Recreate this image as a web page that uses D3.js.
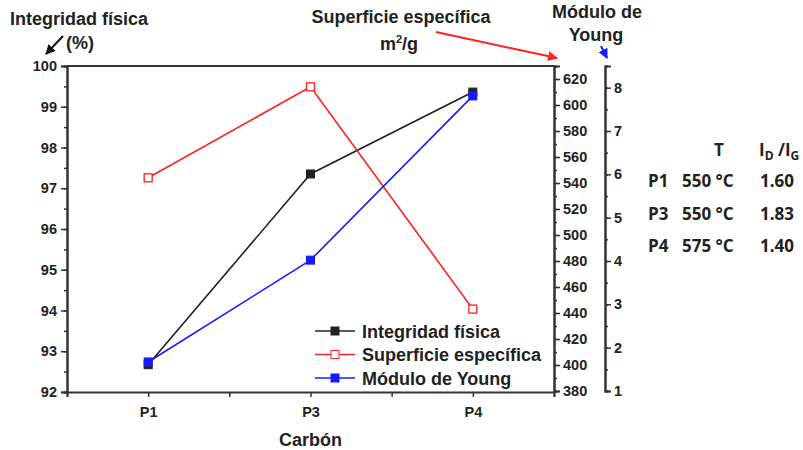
<!DOCTYPE html>
<html>
<head>
<meta charset="utf-8">
<script src="https://cdn.jsdelivr.net/npm/d3@7"></script>
<style>
  body { margin: 0; background: #fff; }
  svg text { font-family: "Liberation Sans", Arial, sans-serif; font-weight: bold; fill: #222; }
  .tabla text { font-family: "Open Sans", "Liberation Sans", sans-serif; font-weight: bold; }
</style>
</head>
<body>
<div id="grafico"></div>
<script>
// Datos
const carbones = ['P1', 'P3', 'P4'];
const integridad = [92.67, 97.35, 99.36];   // %
const superficie = [544, 614, 443];         // m2/g
const young = [1.67, 4.02, 7.81];           // Módulo de Young

const ticksIntegridad = [92, 93, 94, 95, 96, 97, 98, 99, 100];
const ticksSuperficie = [380, 400, 420, 440, 460, 480, 500, 520, 540, 560, 580, 600, 620];
const ticksYoung = [1, 2, 3, 4, 5, 6, 7, 8];

const tablaT = ['550 °C', '550 °C', '575 °C'];
const tablaRatio = ['1.60', '1.83', '1.40'];

const width = 803;
const height = 450;
const mIzq = 67, mDer = 554, mSup = 66, mInf = 392;

const svg = d3.select('#grafico')
    .append('svg')
    .attr('width', width)
    .attr('height', height);

// Escalas
const x = d3.scaleLinear().domain([0.5, 3.5]).range([mIzq, mDer]);
const yInt = d3.scaleLinear().domain([92, 100]).range([mInf, mSup]);
const ySup = d3.scaleLinear().domain([380, 630]).range([mInf - 1, mSup]);
const yYoung = d3.scaleLinear().domain([1, 8.5]).range([mInf - 1, mSup]);

// Marco
svg.append('line').attr('x1', mIzq).attr('x2', mDer).attr('y1', mSup).attr('y2', mSup)
    .attr('stroke', '#333').attr('stroke-width', 2);

function estiloEje(g) {
    g.select('.domain').attr('stroke', '#333').attr('stroke-width', 2);
    g.selectAll('.tick line').attr('stroke', '#333').attr('stroke-width', 1.5);
    g.selectAll('.tick text').attr('font-size', 14.5).attr('font-weight', 'bold').attr('fill', '#222');
}

// Eje izquierdo
svg.append('g').attr('transform', `translate(${mIzq},0)`)
    .call(d3.axisLeft(yInt).tickValues(d3.range(92, 100.01, 0.5)).tickSize(3).tickFormat(''))
    .call(estiloEje);
svg.append('g').attr('transform', `translate(${mIzq},0)`)
    .call(d3.axisLeft(yInt).tickValues(ticksIntegridad).tickSize(6).tickPadding(4).tickFormat(d3.format('d')))
    .call(estiloEje);

// Eje derecho (superficie)
svg.append('g').attr('transform', `translate(${mDer},0)`)
    .call(d3.axisRight(ySup).tickValues(d3.range(380, 631, 10)).tickSize(3).tickFormat(''))
    .call(estiloEje);
svg.append('g').attr('transform', `translate(${mDer},0)`)
    .call(d3.axisRight(ySup).tickValues(ticksSuperficie).tickSize(6).tickPadding(3).tickFormat(d3.format('d')))
    .call(estiloEje);

// Eje Young
const xYoung = 605;
svg.append('g').attr('transform', `translate(${xYoung},0)`)
    .call(d3.axisRight(yYoung).tickValues(d3.range(1, 8.51, 0.5)).tickSize(3).tickFormat(''))
    .call(estiloEje);
svg.append('g').attr('transform', `translate(${xYoung},0)`)
    .call(d3.axisRight(yYoung).tickValues(ticksYoung).tickSize(6).tickPadding(3).tickFormat(d3.format('d')))
    .call(estiloEje);

// Eje X
svg.append('g').attr('transform', `translate(0,${mInf})`)
    .call(d3.axisBottom(x).tickValues(d3.range(0.5, 3.51, 0.5)).tickSize(5)
        .tickFormat(d => Number.isInteger(d) ? carbones[d - 1] : ''))
    .call(estiloEje)
    .call(g => g.selectAll('.tick text').attr('dy', '1.2em'));

svg.append('text').attr('x', (mIzq + mDer) / 2).attr('y', 446)
    .attr('text-anchor', 'middle').attr('font-size', 18).text('Carbón');

// Series
const series = [
    { nombre: 'Integridad física', datos: integridad, y: yInt, color: '#222', lleno: true },
    { nombre: 'Superficie específica', datos: superficie, y: ySup, color: '#ff2020', lleno: false },
    { nombre: 'Módulo de Young', datos: young, y: yYoung, color: '#1a1aff', lleno: true }
];

series.forEach(s => {
    const linea = d3.line().x((d, i) => x(i + 1)).y(d => s.y(d));
    svg.append('path').datum(s.datos)
        .attr('d', linea).attr('fill', 'none')
        .attr('stroke', s.color).attr('stroke-width', 1.6);
    svg.selectAll(null).data(s.datos).enter().append('rect')
        .attr('x', (d, i) => x(i + 1) - 4)
        .attr('y', d => s.y(d) - 4)
        .attr('width', 8).attr('height', 8)
        .attr('fill', s.lleno ? s.color : '#fff')
        .attr('stroke', s.color).attr('stroke-width', s.lleno ? 1 : 1.3);
});

// Leyenda
const leyenda = svg.append('g').attr('transform', 'translate(315,331)');
series.forEach((s, i) => {
    const g = leyenda.append('g').attr('transform', `translate(0,${i * 23.5})`);
    g.append('line').attr('x1', 0).attr('x2', 40).attr('stroke', s.color).attr('stroke-width', 1.6);
    g.append('rect').attr('x', 16).attr('y', -4).attr('width', 8).attr('height', 8)
        .attr('fill', s.lleno ? s.color : '#fff').attr('stroke', s.color);
    g.append('text').attr('x', 47).attr('y', 6.5).attr('font-size', 18).text(s.nombre);
});

// Flechas
const defs = svg.append('defs');
function punta(id, color) {
    defs.append('marker').attr('id', id).attr('viewBox', '0 0 10 10')
        .attr('refX', 9).attr('refY', 5).attr('markerWidth', 5).attr('markerHeight', 5)
        .attr('orient', 'auto')
        .append('path').attr('d', 'M0,0 L10,5 L0,10 Z').attr('fill', color);
}
punta('pNegra', '#111');
punta('pRoja', '#ff2020');
punta('pAzul', '#1a1aff');

// Títulos de ejes
svg.append('text').attr('x', 10).attr('y', 25).attr('font-size', 18).text('Integridad física');
svg.append('text').attr('x', 66).attr('y', 49).attr('font-size', 18).text('(%)');
svg.append('line').attr('x1', 63).attr('y1', 36).attr('x2', 46).attr('y2', 54)
    .attr('stroke', '#111').attr('stroke-width', 2).attr('marker-end', 'url(#pNegra)');

svg.append('text').attr('x', 401).attr('y', 23).attr('text-anchor', 'middle').attr('font-size', 18)
    .text('Superficie específica');
const m2 = svg.append('text').attr('x', 399).attr('y', 50).attr('text-anchor', 'middle').attr('font-size', 18);
m2.append('tspan').text('m');
m2.append('tspan').attr('font-size', 11).attr('dy', -7).text('2');
m2.append('tspan').attr('dy', 7).text('/g');
svg.append('line').attr('x1', 436).attr('y1', 32).attr('x2', 557).attr('y2', 58)
    .attr('stroke', '#ff2020').attr('stroke-width', 2).attr('marker-end', 'url(#pRoja)');

svg.append('text').attr('x', 597).attr('y', 18).attr('text-anchor', 'middle').attr('font-size', 18).text('Módulo de');
svg.append('text').attr('x', 596).attr('y', 41).attr('text-anchor', 'middle').attr('font-size', 18).text('Young');
svg.append('line').attr('x1', 601).attr('y1', 46).attr('x2', 607).attr('y2', 58)
    .attr('stroke', '#1a1aff').attr('stroke-width', 2).attr('marker-end', 'url(#pAzul)');

// Tabla
const tabla = svg.append('g').attr('class', 'tabla');
tabla.append('text').attr('x', 719).attr('y', 156).attr('text-anchor', 'middle').attr('font-size', 17).text('T');
const cab = tabla.append('text').attr('x', 759).attr('y', 156).attr('font-size', 17);
cab.append('tspan').text('I');
cab.append('tspan').attr('font-size', 12).attr('dy', 4).text('D');
cab.append('tspan').attr('dy', -4).text(' /I');
cab.append('tspan').attr('font-size', 12).attr('dy', 4).text('G');

carbones.forEach((c, i) => {
    const yy = 187 + i * 32.5;
    tabla.append('text').attr('x', 648).attr('y', yy).attr('font-size', 17).text(c);
    tabla.append('text').attr('x', 682).attr('y', yy).attr('font-size', 17).text(tablaT[i]);
    tabla.append('text').attr('x', 760).attr('y', yy).attr('font-size', 17).text(tablaRatio[i]);
});
</script>
</body>
</html>
